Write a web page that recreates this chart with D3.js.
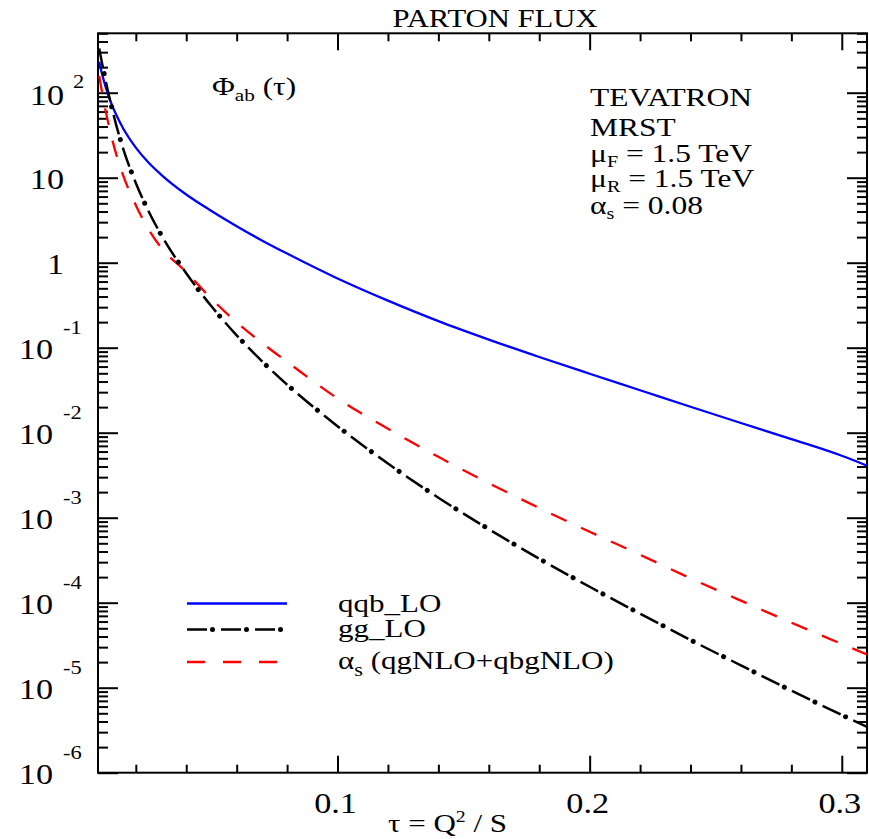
<!DOCTYPE html>
<html>
<head>
<meta charset="utf-8">
<script src="https://cdn.jsdelivr.net/npm/d3@7"></script>
<style>
html,body{margin:0;padding:0;background:#fff;}
svg{display:block;}
text{font-family:"Liberation Serif","Times New Roman",serif;fill:#000;}
</style>
</head>
<body>
<svg id="chart" width="869" height="839"></svg>
<script>
// ---- data ----
const tau = [0.0055, 0.006, 0.007, 0.008, 0.01, 0.0125, 0.015, 0.02, 0.025, 0.03, 0.04, 0.05, 0.06, 0.07, 0.08, 0.1, 0.12, 0.14, 0.16, 0.18, 0.2, 0.22, 0.24, 0.26, 0.28, 0.3, 0.31];
const qqbLO = [231, 197, 150, 118, 78.7, 52.7, 37.9, 22.6, 15.1, 10.9, 6.34, 4.06, 2.69, 1.83, 1.28, 0.653, 0.358, 0.2056, 0.1247, 0.0778, 0.0494, 0.0316, 0.0202, 0.0130, 0.00841, 0.00535, 0.0041];
const ggLO = [331, 275, 195, 140, 76.7, 38.9, 21.9, 8.65, 4.06, 2.14, 0.75, 0.307, 0.140, 0.0695, 0.0368, 0.01194, 0.00434, 0.00172, 7.33e-4, 3.29e-4, 1.54e-4, 7.43e-5, 3.64e-5, 1.83e-5, 9.24e-6, 4.78e-6, 3.46e-6];
const asNLO = [158, 128.5, 87.4, 61.8, 33.5, 17.7, 10.6, 4.75, 2.49, 1.51, 0.776, 0.376, 0.1986, 0.114, 0.0682, 0.0253, 0.01114, 0.0052, 0.00255, 0.0013, 6.84e-4, 3.66e-4, 1.94e-4, 1.057e-4, 5.83e-5, 3.27e-5, 2.46e-5];
const seriesNames = ["qqb_LO", "gg_LO", "\u03B1s (qgNLO+qbgNLO)"];
const xMajorTicks = [0.1, 0.2, 0.3];
const xTickLabels = ["0.1", "0.2", "0.3"];
const yDecades = [-6, -5, -4, -3, -2, -1, 0, 1, 2];
const infoLines = ["TEVATRON", "MRST", "\u03BCF = 1.5 TeV", "\u03BCR = 1.5 TeV", "\u03B1s = 0.08"];

// ---- layout ----
const L = 98, R = 867, T = 33.3, B = 772.7;
const svg = d3.select("#chart");

const x = d3.scaleLinear().domain([0.005, 0.31]).range([L, R]);
const y = d3.scaleLog().domain([1e-6, 500]).range([B, T]);

function txt(g, px, py, size, anchor, sx) {
  return g.append("text")
    .attr("transform", `translate(${px},${py}) scale(${sx || 1.18},1)`)
    .attr("text-anchor", anchor || "start")
    .style("font-size", size + "px");
}

// clip
svg.append("clipPath").attr("id", "clip").append("rect")
  .attr("x", L).attr("y", T).attr("width", R - L).attr("height", B - T);

// ---- ticks via d3 axes ----
const xMinor = d3.range(1, 16).map(i => +(i * 0.02).toFixed(2)).filter(v => !xMajorTicks.some(m => Math.abs(m - v) < 1e-9));
const yMajor = yDecades.map(e => Math.pow(10, e));
const yMinor = [];
yDecades.forEach(e => { for (let m = 2; m <= 9; m++) { const v = m * Math.pow(10, e); if (v <= 500) yMinor.push(v); } });

function styleAxis(g) {
  g.select(".domain").remove();
  g.selectAll("line").attr("stroke", "#000").attr("stroke-width", 2);
  g.selectAll("text").remove();
}
svg.append("g").attr("transform", `translate(0,${B})`).call(d3.axisBottom(x).tickValues(xMajorTicks).tickSize(-17).tickFormat("")).call(styleAxis);
svg.append("g").attr("transform", `translate(0,${B})`).call(d3.axisBottom(x).tickValues(xMinor).tickSize(-8).tickFormat("")).call(styleAxis);
svg.append("g").attr("transform", `translate(0,${T})`).call(d3.axisTop(x).tickValues(xMajorTicks).tickSize(-17).tickFormat("")).call(styleAxis);
svg.append("g").attr("transform", `translate(0,${T})`).call(d3.axisTop(x).tickValues(xMinor).tickSize(-8).tickFormat("")).call(styleAxis);
svg.append("g").attr("transform", `translate(${L},0)`).call(d3.axisLeft(y).tickValues(yMajor).tickSize(-20).tickFormat("")).call(styleAxis);
svg.append("g").attr("transform", `translate(${L},0)`).call(d3.axisLeft(y).tickValues(yMinor).tickSize(-10).tickFormat("")).call(styleAxis);
svg.append("g").attr("transform", `translate(${R},0)`).call(d3.axisRight(y).tickValues(yMajor).tickSize(-20).tickFormat("")).call(styleAxis);
svg.append("g").attr("transform", `translate(${R},0)`).call(d3.axisRight(y).tickValues(yMinor).tickSize(-10).tickFormat("")).call(styleAxis);

// frame
svg.append("rect").attr("x", L).attr("y", T).attr("width", R - L).attr("height", B - T)
  .attr("fill", "none").attr("stroke", "#000").attr("stroke-width", 2);

// ---- tick labels ----
xMajorTicks.forEach((v, i) => {
  txt(svg, x(v) - 2, 813, 29, "middle").text(xTickLabels[i]);
});
yDecades.forEach(e => {
  const py = y(Math.pow(10, e));
  if (e < 0) {
    txt(svg, 53, py + 11, 29, "end").text("10");
    txt(svg, 63, py - 14, 19, "start").text(String(e));
  } else if (e === 2) {
    txt(svg, 64, py + 12, 29, "end").text("10");
    txt(svg, 73, py - 5, 19, "start").text(String(e));
  } else {
    txt(svg, 64, py + 11, 29, "end").text(e === 1 ? "10" : "1");
  }
});

// ---- titles ----
txt(svg, 495, 27, 26, "middle").text("PARTON FLUX");
(function () {
  const t = txt(svg, 388, 832, 25, "start", 1.24);
  t.append("tspan").text("\u03C4 = Q");
  t.append("tspan").attr("dy", -10).style("font-size", "16px").text("2");
  t.append("tspan").attr("dy", 10).text(" / S");
})();
(function () {
  const t = txt(svg, 212, 95, 25, "start", 1.25);
  t.append("tspan").text("\u03A6");
  t.append("tspan").attr("dy", 6).style("font-size", "17px").text("ab");
  t.append("tspan").attr("dy", -6).text(" (\u03C4)");
})();

// info block
const infoY = [106, 136, 162, 187, 214];
infoLines.forEach((s, i) => {
  const t = txt(svg, 590, infoY[i], 25, "start", 1.26);
  if (i >= 2) {
    t.append("tspan").text(s[0]);
    t.append("tspan").attr("dy", 5).style("font-size", "16px").text(s[1]);
    t.append("tspan").attr("dy", -5).text(s.slice(2));
  } else {
    t.text(s);
  }
});

// ---- curves ----
const plot = svg.append("g").attr("clip-path", "url(#clip)");
const line = d3.line().x(d => x(d[0])).y(d => y(d[1])).curve(d3.curveMonotoneX);
const mk = arr => tau.map((t, i) => [t, arr[i]]);

plot.append("path").attr("d", line(mk(qqbLO))).attr("fill", "none")
  .attr("stroke", "#0000ff").attr("stroke-width", 2.3);
plot.append("path").attr("d", line(mk(asNLO))).attr("fill", "none")
  .attr("stroke", "#ff0000").attr("stroke-width", 2.3).attr("stroke-dasharray", "17,16");
plot.append("path").attr("d", line(mk(ggLO))).attr("fill", "none")
  .attr("stroke", "#000").attr("stroke-width", 2.5).attr("stroke-dasharray", "20,14");
plot.append("path").attr("d", line(mk(ggLO))).attr("fill", "none")
  .attr("stroke", "#000").attr("stroke-width", 5).attr("stroke-linecap", "round")
  .attr("stroke-dasharray", "0.01,33.99").attr("stroke-dashoffset", 8.5);

// ---- legend ----
const legY = [603.5, 629.5, 662];
const legLabelY = [612, 637, 669];
const lg = svg.append("g");
const lx0 = 187, lx1 = 287;
lg.append("line").attr("x1", lx0).attr("x2", lx1).attr("y1", legY[0]).attr("y2", legY[0])
  .attr("stroke", "#0000ff").attr("stroke-width", 2.3);
lg.append("line").attr("x1", lx0).attr("x2", lx1).attr("y1", legY[1]).attr("y2", legY[1])
  .attr("stroke", "#000").attr("stroke-width", 2.5).attr("stroke-dasharray", "20,14");
lg.append("line").attr("x1", lx0).attr("x2", lx1 - 1).attr("y1", legY[1]).attr("y2", legY[1])
  .attr("stroke", "#000").attr("stroke-width", 5).attr("stroke-linecap", "round")
  .attr("stroke-dasharray", "0.01,33.99").attr("stroke-dashoffset", 8.5);
lg.append("line").attr("x1", lx0).attr("x2", lx1 - 10).attr("y1", legY[2]).attr("y2", legY[2])
  .attr("stroke", "#ff0000").attr("stroke-width", 2.3).attr("stroke-dasharray", "18,18");

txt(lg, 338, legLabelY[0], 25, "start", 1.24).text(seriesNames[0]);
txt(lg, 338, legLabelY[1], 25, "start", 1.24).text(seriesNames[1]);
(function () {
  const t = txt(lg, 338, legLabelY[2], 25, "start", 1.24);
  t.append("tspan").text(seriesNames[2][0]);
  t.append("tspan").attr("dy", 7).style("font-size", "18px").text(seriesNames[2][1]);
  t.append("tspan").attr("dy", -7).text(seriesNames[2].slice(2));
})();
</script>
</body>
</html>
